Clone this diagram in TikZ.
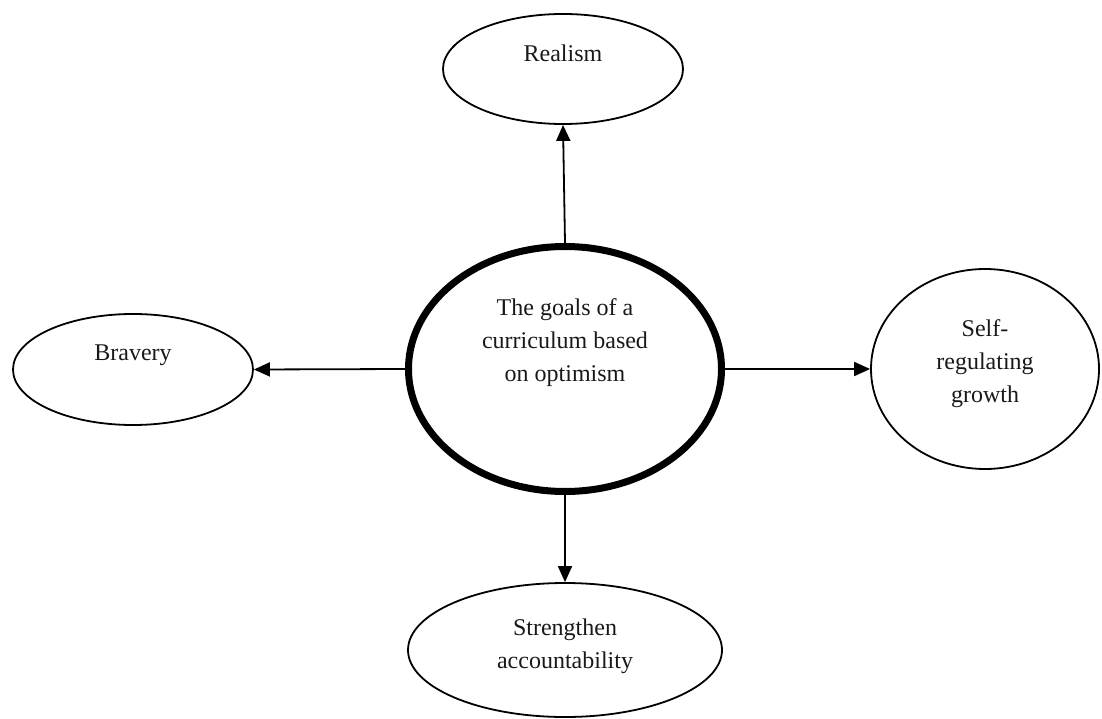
\documentclass[tikz,border=0pt]{standalone}
\usepackage{fontspec}
\setmainfont{Liberation Serif}
\usetikzlibrary{shapes.geometric,arrows.meta}
\begin{document}
\begin{tikzpicture}[x=1pt,y=-1pt,
  goal/.style={draw=black,ellipse,line width=1.8pt,inner sep=0pt,outer sep=0.9pt},
  hub/.style={draw=black,ellipse,line width=7pt,inner sep=0pt,outer sep=3.5pt},
  lbl/.style={align=center,inner sep=0pt,font=\fontsize{24pt}{33pt}\selectfont,text=black!90},
  conn/.style={line width=1.8pt,-{Triangle[length=16pt,width=14pt]}}]
\useasboundingbox (0,0) rectangle (1102,719);
\node[hub,minimum width=313pt,minimum height=245pt] (hub) at (565,369) {};
\node[goal,minimum width=240pt,minimum height=110pt] (realism) at (563,69) {};
\node[goal,minimum width=240pt,minimum height=111pt] (bravery) at (133,369.5) {};
\node[goal,minimum width=228pt,minimum height=200pt] (self) at (985,369) {};
\node[goal,minimum width=314pt,minimum height=134pt] (strength) at (565,650) {};
\node[lbl] (hubt) at (565,343) {The goals of a\\curriculum based\\on optimism};
\node[lbl] (realismt) at (563,53) {Realism};
\node[lbl] (braveryt) at (133,355) {Bravery};
\node[lbl] (selft) at (985,364) {Self-\\regulating\\growth};
\node[lbl] (strengtht) at (565,646) {Strengthen\\accountability};
\draw[conn] (hub.north) -- (realism.south);
\draw[conn] (hub.west) -- (bravery.east);
\draw[conn] (hub.east) -- (self.west);
\draw[conn] (hub.south) -- (strength.north);
\end{tikzpicture}
\end{document}
